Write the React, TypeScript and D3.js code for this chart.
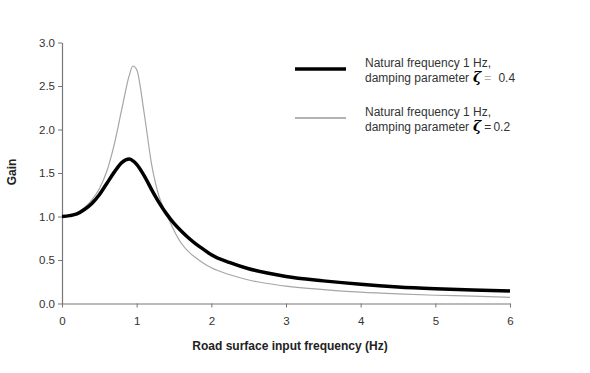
import React, { useEffect, useRef } from "react";
import * as d3 from "d3";

// frequency (Hz)
const freqs = [
  0, 0.1, 0.2, 0.3, 0.4, 0.5, 0.6, 0.7, 0.8, 0.9, 0.95, 1.0, 1.1, 1.2, 1.3, 1.4,
  1.5, 1.6, 1.7, 1.8, 1.9, 2.0, 2.25, 2.5, 2.75, 3.0, 3.5, 4.0, 4.5, 5.0, 5.5, 6.0,
];
// gain, damping 0.4 (thick black)
const gainDamp04 = [
  1.0, 1.01, 1.03, 1.08, 1.15, 1.25, 1.38, 1.51, 1.62, 1.66, 1.64, 1.6, 1.47, 1.31, 1.16, 1.03,
  0.92, 0.83, 0.75, 0.68, 0.62, 0.56, 0.47, 0.4, 0.35, 0.31, 0.26, 0.22, 0.19, 0.17, 0.155, 0.145,
];
// gain, damping 0.2 (thin grey)
const gainDamp02 = [
  1.0, 1.01, 1.04, 1.1, 1.19, 1.32, 1.52, 1.83, 2.23, 2.62, 2.73, 2.69, 2.19, 1.6, 1.23, 1.03,
  0.84, 0.69, 0.59, 0.52, 0.46, 0.41, 0.33, 0.27, 0.23, 0.2, 0.16, 0.13, 0.11, 0.095, 0.085, 0.07,
];
const xTicks = [0, 1, 2, 3, 4, 5, 6];
const yTicks = [0, 0.5, 1.0, 1.5, 2.0, 2.5, 3.0];

const App = () => {
  const svgRef = useRef<SVGSVGElement | null>(null);

  useEffect(() => {
    const width = 590;
    const height = 373;
    const left = 62;
    const right = 510;
    const top = 42.5;
    const bottom = 303.5;
    const font = "'Liberation Sans', Arial, sans-serif";

    const svg = d3.select(svgRef.current);
    svg.selectAll("*").remove();
    svg.attr("width", width).attr("height", height);

    const x = d3.scaleLinear().domain([0, 6]).range([left, right]);
    const y = d3.scaleLinear().domain([0, 3]).range([bottom, top]);

    // axes
    const xAxis = svg
      .append("g")
      .attr("transform", `translate(0,${bottom})`)
      .call(d3.axisBottom(x).tickValues(xTicks).tickSize(4).tickSizeOuter(0).tickFormat(d3.format("d")));
    const yAxis = svg
      .append("g")
      .attr("transform", `translate(${left},0)`)
      .call(d3.axisLeft(y).tickValues(yTicks).tickSize(4).tickSizeOuter(0).tickFormat(d3.format(".1f")));

    [xAxis, yAxis].forEach((g) => {
      g.select(".domain").attr("stroke", "#777").attr("stroke-width", 1.2);
      g.selectAll(".tick line").attr("stroke", "#777");
      g.selectAll(".tick text")
        .attr("fill", "#333")
        .attr("font-family", font)
        .attr("font-size", 11.5);
    });
    xAxis.selectAll(".tick text").attr("dy", "1.3em");
    yAxis.selectAll(".tick text").attr("x", -7);

    const line = (vals: number[]) =>
      d3
        .line<number>()
        .x((_, i) => x(freqs[i]))
        .y((d) => y(d))
        .curve(d3.curveMonotoneX)(vals);

    svg
      .append("path")
      .attr("d", line(gainDamp02))
      .attr("fill", "none")
      .attr("stroke", "#a6a6a6")
      .attr("stroke-width", 1.2);

    svg
      .append("path")
      .attr("d", line(gainDamp04))
      .attr("fill", "none")
      .attr("stroke", "#000")
      .attr("stroke-width", 3.5);

    // axis titles
    svg
      .append("text")
      .attr("x", 290)
      .attr("y", 350)
      .attr("text-anchor", "middle")
      .attr("font-family", font)
      .attr("font-weight", "bold")
      .attr("font-size", 12)
      .attr("fill", "#222")
      .text("Road surface input frequency (Hz)");

    svg
      .append("text")
      .attr("transform", "translate(16,172) rotate(-90)")
      .attr("text-anchor", "middle")
      .attr("font-family", font)
      .attr("font-weight", "bold")
      .attr("font-size", 12)
      .attr("fill", "#222")
      .text("Gain");

    // legend
    const legend = [
      { y: 69, color: "#000", w: 3.5, zeta: "0.4", eqColor: "#b0b0b0", gap: 7 },
      { y: 118, color: "#b3b3b3", w: 2, zeta: "0.2", eqColor: "#333", gap: 2 },
    ];
    legend.forEach((l) => {
      svg
        .append("line")
        .attr("x1", 295)
        .attr("x2", 346)
        .attr("y1", l.y)
        .attr("y2", l.y)
        .attr("stroke", l.color)
        .attr("stroke-width", l.w);
      const t = svg
        .append("text")
        .attr("font-family", font)
        .attr("font-size", 12)
        .attr("fill", "#333");
      t.append("tspan").attr("x", 365).attr("y", l.y - 2).text("Natural frequency 1 Hz,");
      t.append("tspan").attr("x", 365).attr("y", l.y + 13).text("damping parameter");
      t.append("tspan")
        .attr("dx", 4)
        .attr("font-family", "'DejaVu Serif', serif")
        .attr("font-style", "italic")
        .attr("font-weight", "bold")
        .attr("font-size", 14)
        .attr("fill", "#000")
        .text("ζ");
      t.append("tspan").attr("dx", 3).attr("fill", l.eqColor).text("=");
      t.append("tspan").attr("dx", l.gap).text(l.zeta);
    });
  }, []);

  return <svg ref={svgRef} style={{ position: "absolute", left: 0, top: 0 }} />;
};

export default App;
